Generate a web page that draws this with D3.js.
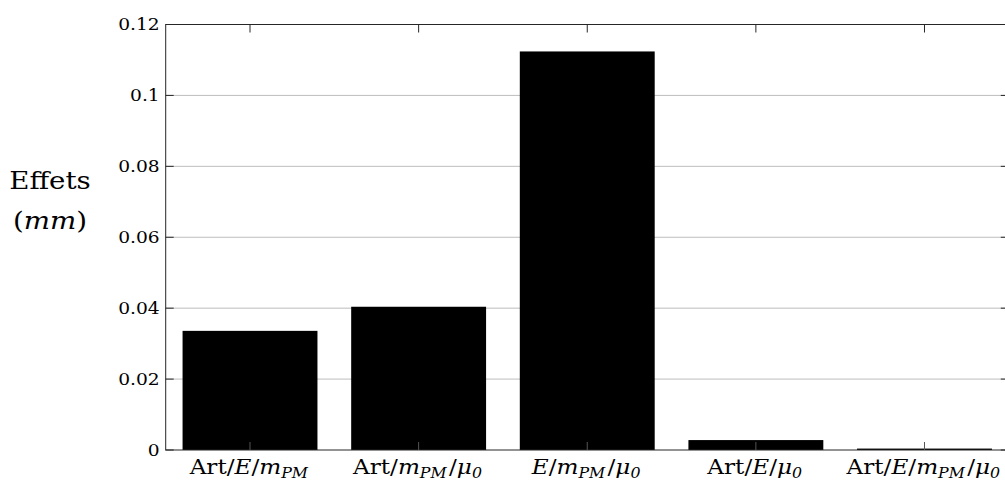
<!DOCTYPE html>
<html>
<head>
<meta charset="utf-8">
<script src="https://cdn.jsdelivr.net/npm/d3@7"></script>
<style>
  body { margin: 0; background: #fff; }
  text { font-family: "DejaVu Serif", "Liberation Serif", serif; fill: #000; }
</style>
</head>
<body>
<svg width="1005" height="482"></svg>
<script>
// categories written as small math strings: parts split on "/", "_" starts a subscript
const categories = ["Art/E/m_PM", "Art/m_PM/μ_0", "E/m_PM/μ_0", "Art/E/μ_0", "Art/E/m_PM/μ_0"];
const effets = [0.0336, 0.0404, 0.1124, 0.0028, 0.0004];
const yTicks = [0, 0.02, 0.04, 0.06, 0.08, 0.1, 0.12];
const yTickLabels = ["0", "0.02", "0.04", "0.06", "0.08", "0.1", "0.12"];

const svg = d3.select('svg');
const plotL = 165.7, plotR = 1008.8, plotT = 24.5, plotB = 450;
const tickLen = 8;
const axisColor = '#262626';
const stretch = 1.13; // the reference type is drawn a bit wide

const x = d3.scaleBand().domain(categories).range([plotL, plotR])
  .paddingInner(0.2).paddingOuter(0.1);
const y = d3.scaleLinear().domain([0, 0.12]).range([plotB, plotT]);

// grid
svg.append('g').selectAll('line')
  .data(yTicks.slice(1, -1))
  .join('line')
    .attr('x1', plotL).attr('x2', plotR)
    .attr('y1', d => y(d)).attr('y2', d => y(d))
    .attr('stroke', '#bdbdbd').attr('stroke-width', 1);

// bars
svg.append('g').selectAll('rect')
  .data(effets)
  .join('rect')
    .attr('x', (d, i) => x(categories[i]))
    .attr('width', x.bandwidth())
    .attr('y', d => y(d))
    .attr('height', d => plotB - y(d))
    .attr('fill', '#000');

// box
const box = svg.append('g').attr('stroke', axisColor).attr('stroke-width', 1).attr('fill', 'none');
box.append('rect').attr('x', plotL).attr('y', plotT)
  .attr('width', plotR - plotL).attr('height', plotB - plotT);

// y ticks inward on both sides
yTicks.forEach(t => {
  box.append('line').attr('x1', plotL).attr('x2', plotL + tickLen)
    .attr('y1', y(t)).attr('y2', y(t));
  box.append('line').attr('x1', plotR - tickLen).attr('x2', plotR)
    .attr('y1', y(t)).attr('y2', y(t));
});
// x ticks inward top and bottom
categories.forEach(c => {
  const cx = x(c) + x.bandwidth() / 2;
  box.append('line').attr('x1', cx).attr('x2', cx).attr('y1', plotT).attr('y2', plotT + tickLen);
  box.append('line').attr('x1', cx).attr('x2', cx).attr('y1', plotB).attr('y2', plotB - tickLen)
    .attr('stroke', '#555');
});

// y tick labels
svg.append('g').selectAll('text')
  .data(yTicks)
  .join('text')
    .attr('transform', d => `translate(${plotL - 6},${y(d)}) scale(${stretch},1)`)
    .attr('dy', '0.36em')
    .attr('text-anchor', 'end')
    .style('font-size', '16.5px')
    .text((d, i) => yTickLabels[i]);

// x labels with italic math and subscripts
categories.forEach(c => {
  const t = svg.append('text')
    .attr('transform', `translate(${x(c) + x.bandwidth() / 2},474) scale(${stretch},1)`)
    .attr('text-anchor', 'middle')
    .style('font-size', '20.5px');
  c.split('/').forEach((part, k) => {
    if (k > 0) t.append('tspan').text('/');
    const [base, sub] = part.split('_');
    t.append('tspan').text(base)
      .style('font-style', base === 'Art' ? 'normal' : 'italic');
    if (sub) {
      t.append('tspan').text(sub)
        .style('font-style', 'italic')
        .style('font-size', '14px')
        .attr('dy', 4);
      t.append('tspan').text('\u200A').attr('dy', -4);
    }
  });
});

// y label
const yl = svg.append('text').attr('text-anchor', 'middle')
  .attr('transform', `translate(50,0) scale(${stretch},1)`)
  .style('font-size', '24.5px');
yl.append('tspan').attr('x', 0).attr('y', 189).text('Effets');
const yl2 = yl.append('tspan').attr('x', 0).attr('y', 229);
yl2.append('tspan').text('(');
yl2.append('tspan').style('font-style', 'italic').text('mm');
yl2.append('tspan').text(')');
</script>
</body>
</html>
